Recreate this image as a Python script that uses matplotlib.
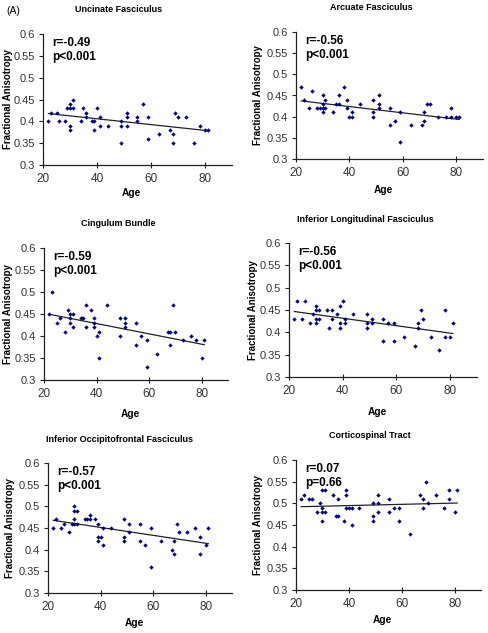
import matplotlib
matplotlib.use('Agg')
import matplotlib.pyplot as plt
import numpy as np

plt.rcParams['font.family'] = ['Liberation Sans', 'DejaVu Sans']

W, H = 488, 633

titles = ['Uncinate Fasciculus', 'Arcuate Fasciculus', 'Cingulum Bundle',
          'Inferior Longitudinal Fasciculus', 'Inferior Occipitofrontal Fasciculus',
          'Corticospinal Tract']
stats = ['r=-0.49\np<0.001', 'r=-0.56\np<0.001', 'r=-0.59\np<0.001',
         'r=-0.56\np<0.001', 'r=-0.57\np<0.001', 'r=0.07\np=0.66']

# Uncinate
unc_age = [22, 23, 25, 26, 28, 29, 30, 30, 30, 30, 31, 31, 34, 35, 36, 36, 38, 39, 39, 40, 41, 41, 44,
           49, 49, 49, 51, 51, 51, 55, 55, 57, 59, 59, 63, 67, 68, 68, 69, 70, 73, 76, 78, 80, 81]
unc_fa = [0.40, 0.42, 0.42, 0.40, 0.40, 0.43, 0.44, 0.43, 0.39, 0.38, 0.45, 0.43, 0.40, 0.43, 0.42, 0.41,
          0.40, 0.40, 0.38, 0.43, 0.41, 0.39, 0.39, 0.40, 0.39, 0.35, 0.42, 0.41, 0.39, 0.41, 0.40, 0.44,
          0.41, 0.36, 0.37, 0.38, 0.37, 0.35, 0.42, 0.41, 0.41, 0.35, 0.39, 0.38, 0.38]

# Arcuate
arc_age = [22, 23, 25, 26, 28, 29, 30, 30, 30, 30, 31, 31, 34, 35, 36, 36, 38, 39, 39, 40, 41, 41, 44,
           49, 49, 49, 51, 51, 51, 55, 55, 57, 59, 59, 63, 67, 68, 68, 69, 70, 73, 76, 78, 78, 80, 81]
arc_fa = [0.47, 0.44, 0.42, 0.46, 0.42, 0.42, 0.45, 0.43, 0.42, 0.41, 0.44, 0.42, 0.41, 0.43, 0.45, 0.43,
          0.47, 0.44, 0.42, 0.40, 0.41, 0.40, 0.43, 0.44, 0.41, 0.40, 0.45, 0.43, 0.42, 0.42, 0.38, 0.39,
          0.41, 0.34, 0.38, 0.38, 0.41, 0.39, 0.43, 0.43, 0.40, 0.40, 0.42, 0.40, 0.40, 0.40]

# Cingulum
cing_age = [22, 23, 25, 26, 28, 29, 30, 30, 30, 31, 31, 34, 35, 36, 36, 38, 39, 39, 39, 40, 41, 41, 44,
            49, 49, 51, 51, 51, 55, 55, 57, 59, 59, 63, 67, 68, 68, 69, 70, 73, 76, 78, 80, 81]
cing_fa = [0.45, 0.50, 0.43, 0.44, 0.41, 0.46, 0.45, 0.44, 0.43, 0.45, 0.42, 0.44, 0.44, 0.47, 0.42, 0.46,
           0.44, 0.43, 0.42, 0.40, 0.41, 0.35, 0.47, 0.44, 0.40, 0.44, 0.43, 0.42, 0.43, 0.38, 0.40, 0.39,
           0.33, 0.36, 0.41, 0.41, 0.38, 0.47, 0.41, 0.39, 0.40, 0.39, 0.35, 0.39]

# Inferior longitudinal
ilf_age = [22, 23, 25, 26, 28, 29, 30, 30, 30, 30, 31, 31, 34, 35, 36, 36, 38, 39, 39, 39, 40, 41, 41, 44,
           49, 49, 49, 51, 51, 55, 55, 57, 59, 59, 63, 67, 68, 68, 69, 70, 73, 76, 78, 78, 80, 81]
ilf_fa = [0.43, 0.47, 0.43, 0.47, 0.42, 0.44, 0.46, 0.45, 0.43, 0.42, 0.45, 0.43, 0.45, 0.41, 0.45, 0.43,
          0.44, 0.46, 0.42, 0.41, 0.47, 0.43, 0.42, 0.44, 0.44, 0.42, 0.41, 0.43, 0.42, 0.43, 0.38, 0.42,
          0.42, 0.38, 0.39, 0.37, 0.42, 0.41, 0.45, 0.43, 0.39, 0.36, 0.45, 0.39, 0.39, 0.42]

# Inferior occipitofrontal
ifo_age = [22, 23, 25, 26, 28, 29, 30, 30, 30, 30, 31, 31, 34, 35, 36, 36, 38, 39, 39, 39, 40, 41, 41, 44,
           49, 49, 49, 51, 51, 55, 55, 57, 59, 59, 63, 67, 68, 68, 69, 70, 73, 76, 78, 78, 80, 81]
ifo_fa = [0.45, 0.47, 0.45, 0.46, 0.44, 0.46, 0.50, 0.49, 0.47, 0.46, 0.49, 0.46, 0.47, 0.47, 0.48, 0.47,
          0.47, 0.46, 0.43, 0.42, 0.43, 0.45, 0.41, 0.45, 0.47, 0.43, 0.42, 0.46, 0.44, 0.46, 0.42, 0.41,
          0.45, 0.36, 0.42, 0.40, 0.42, 0.39, 0.46, 0.44, 0.44, 0.45, 0.43, 0.39, 0.41, 0.45]

# Corticospinal
cst_age = [22, 23, 25, 26, 28, 29, 30, 30, 30, 30, 31, 31, 34, 35, 36, 36, 38, 39, 39, 39, 40, 41, 41, 44,
           49, 49, 49, 51, 51, 51, 55, 55, 57, 59, 59, 63, 67, 68, 68, 69, 70, 73, 76, 78, 78, 80, 81]
cst_fa = [0.51, 0.52, 0.51, 0.51, 0.48, 0.50, 0.53, 0.49, 0.48, 0.46, 0.53, 0.48, 0.52, 0.47, 0.47, 0.51,
          0.46, 0.53, 0.52, 0.49, 0.49, 0.49, 0.45, 0.49, 0.50, 0.47, 0.46, 0.52, 0.50, 0.48, 0.51, 0.48,
          0.49, 0.49, 0.46, 0.43, 0.52, 0.51, 0.49, 0.55, 0.50, 0.52, 0.49, 0.53, 0.51, 0.48, 0.53]

ages = [unc_age, arc_age, cing_age, ilf_age, ifo_age, cst_age]
fas = [unc_fa, arc_fa, cing_fa, ilf_fa, ifo_fa, cst_fa]

# axes boxes in pixels: left, right, top, bottom
boxes = [(43, 232, 34, 165), (296, 483, 32, 159),
         (44, 228, 248, 380), (289, 477, 243, 377),
         (48, 232, 463, 593), (296, 481, 460, 590)]
title_pos = [(119, 10), (371, 8), (118, 224), (365, 219), (120, 440), (370, 436)]
ylab_x = [8, 258, 8, 253, 10, 258]
xlab_y = [193, 190, 414, 412, 623, 620]

fig = plt.figure(figsize=(W / 100, H / 100), dpi=100, facecolor='white')

for i in range(6):
    l, r, t, b = boxes[i]
    ax = fig.add_axes([l / W, 1 - b / H, (r - l) / W, (b - t) / H])
    x = np.array(ages[i])
    y = np.array(fas[i])
    ax.scatter(x, y, marker='D', s=5, color='#000080', linewidths=0, zorder=3)
    k, c = np.polyfit(x, y, 1)
    xs = np.array([x.min(), x.max()])
    ax.plot(xs, k * xs + c, color='#222222', lw=0.9, zorder=2)

    ax.set_xlim(20, 90)
    ax.set_ylim(0.3, 0.6)
    ax.set_xticks([20, 40, 60, 80])
    ax.set_yticks([0.3, 0.35, 0.4, 0.45, 0.5, 0.55, 0.6])
    ax.set_yticklabels(['0.3', '0.35', '0.4', '0.45', '0.5', '0.55', '0.6'])
    for s in ['top', 'right']:
        ax.spines[s].set_visible(False)
    for s in ['left', 'bottom']:
        ax.spines[s].set_linewidth(0.9)
        ax.spines[s].set_color('#222222')
    ax.tick_params(axis='y', direction='out', length=3, width=0.8, labelsize=8,
                   colors='#222222', labelcolor='#333333', pad=3)
    ax.tick_params(axis='x', direction='inout', length=5, width=0.8, labelsize=8.5,
                   colors='#222222', labelcolor='#333333', pad=3)
    ax.patch.set_alpha(0)

    ax.text(0.05, 0.98, stats[i], transform=ax.transAxes, ha='left', va='top',
            fontsize=8.5, fontweight='bold', linespacing=1.25)

    tx, ty = title_pos[i]
    fig.text(tx / W, 1 - ty / H, titles[i], ha='center', va='center',
             fontsize=6.5, fontweight='bold')
    fig.text(ylab_x[i] / W, 1 - ((t + b) / 2) / H, 'Fractional Anisotropy',
             rotation=90, ha='center', va='center', fontsize=7, fontweight='bold')
    fig.text(((l + r) / 2 - 6) / W, 1 - xlab_y[i] / H, 'Age', ha='center',
             va='center', fontsize=7.3, fontweight='bold')

fig.text(13 / W, 1 - 11 / H, '(A)', ha='center', va='center', fontsize=7.5)

fig.savefig('out.png', dpi=100, facecolor='white')
